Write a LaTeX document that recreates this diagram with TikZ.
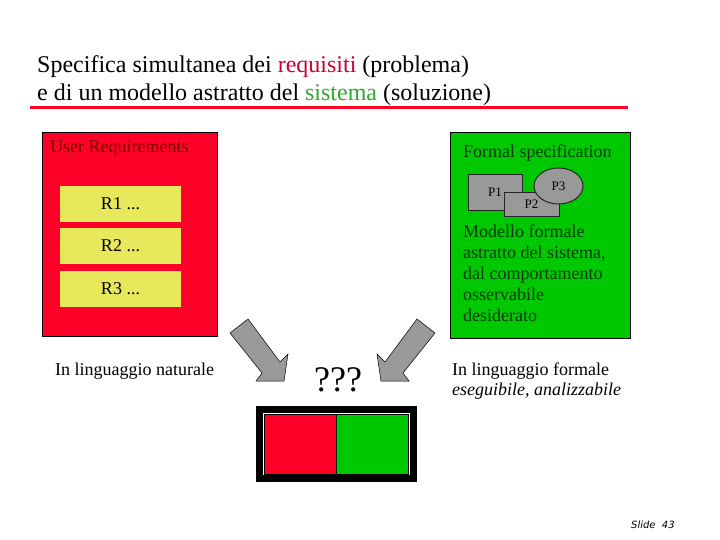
\documentclass[tikz,border=0pt]{standalone}
\usepackage{fontspec}
\setmainfont{Liberation Serif}
\newfontfamily\slidefont{DejaVu Sans}
\usetikzlibrary{shapes}
\definecolor{slred}{HTML}{FF0028}
\definecolor{slgreen}{HTML}{00C800}
\definecolor{slyellow}{HTML}{E8E85C}
\definecolor{slgray}{HTML}{999999}
\definecolor{reqred}{HTML}{CC0033}
\definecolor{sysgreen}{HTML}{2EA82E}
\definecolor{txtred}{HTML}{7A0000}
\definecolor{txtgreen}{HTML}{003A00}
\tikzset{
  txt/.style={inner sep=0pt, anchor=base west},
  reqitem/.style={fill=slyellow, minimum width=121pt, minimum height=36pt, inner sep=0pt, font=\fontsize{18}{20}\selectfont},
  pbox/.style={draw=black!85, fill=slgray, inner sep=0pt, font=\fontsize{13}{14}\selectfont},
  bigarrow/.style={draw=black, fill=slgray, line width=0.5pt},
}
\begin{document}
\begin{tikzpicture}[x=1pt, y=-1pt]
\useasboundingbox [fill=white] (0,0) rectangle (720,540);

\node [txt, font=\fontsize{24}{28}\selectfont] (title1) at (37,73) {Specifica simultanea dei \textcolor{reqred}{requisiti} (problema)};
\node [txt, font=\fontsize{24}{28}\selectfont] (title2) at (37,101) {e di un modello astratto del \textcolor{sysgreen}{sistema} (soluzione)};
\draw [slred, line width=3pt] (30,108) -- (628,108);

\draw [fill=slred] (42,132) rectangle (217,336);
\node [txt, text=txtred, font=\fontsize{18}{20}\selectfont] (ureq) at (50,153) {User Requirements};
\node [reqitem] (r1) at (120.5,204) {R1 ...};
\node [reqitem] (r2) at (120.5,246) {R2 ...};
\node [reqitem] (r3) at (120.5,288.5) {R3 ...};

\draw [fill=slgreen] (450,132) rectangle (630,338);
\node [txt, text=txtgreen, font=\fontsize{18}{20}\selectfont] (fspec) at (463,158) {Formal specification};
\node [pbox, rectangle, minimum width=54pt, minimum height=36pt] (p1) at (495,192) {P1};
\node [pbox, rectangle, minimum width=55pt, minimum height=24pt] (p2) at (531.5,204) {P2};
\node [pbox, ellipse, minimum width=49pt, minimum height=36pt, line width=1pt] (p3) at (558.5,186) {P3};
\node [txt, text=txtgreen, align=left, font=\fontsize{18}{21}\selectfont] (model) at (463,321) {Modello formale\\astratto del sistema,\\dal comportamento\\osservabile\\desiderato};

\node [txt, font=\fontsize{18}{20}\selectfont] (natural) at (55,375) {In linguaggio naturale};
\node [txt, font=\fontsize{18}{20}\selectfont] (formal) at (452,375) {In linguaggio formale};
\node [txt, font=\fontsize{18}{20}\selectfont\itshape] (exec) at (452,395) {eseguibile, analizzabile};
\node [txt, font=\fontsize{36}{38}\selectfont] (qqq) at (314,391) {???};

\draw [bigarrow] (230,333) -- (248,319) -- (280,362) -- (288,354) -- (284,381) -- (256,381) -- (262,373) -- cycle;
\draw [bigarrow] (435,333) -- (417,319) -- (385,362) -- (377,354) -- (381,381) -- (409,381) -- (403,373) -- cycle;

\draw [line width=7pt] (259.5,409.5) rectangle (413.5,478.5);
\draw [fill=slred] (264,414) rectangle (336,474);
\draw [fill=slgreen] (336,414) rectangle (408,474);

\node [txt, font=\slidefont\itshape\fontsize{10}{12}\selectfont] (slide) at (631,528) {Slide\ \ 43};
\end{tikzpicture}
\end{document}
